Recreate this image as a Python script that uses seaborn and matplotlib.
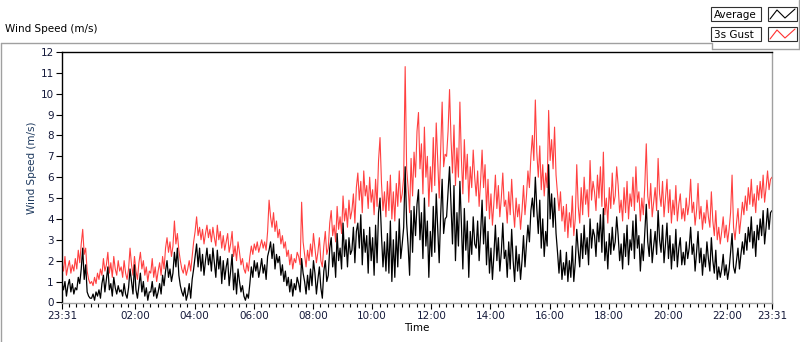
import numpy as np
import pandas as pd
import matplotlib
matplotlib.use("Agg")
import matplotlib.pyplot as plt
import matplotlib.dates as mdates
from matplotlib.ticker import FixedLocator
from matplotlib.patches import Rectangle
import seaborn as sns

# 3s gust, one reading every 3 min from 23:31 to 23:31 next day (one row per hour)
gust = [
    1.9, 1.5, 2.2, 1.3, 1.7, 2.0, 1.4, 1.8, 1.5, 2.1, 1.6, 2.5, 1.9, 2.8, 3.5, 2.3, 2.6, 1.5, 1.1, 0.9,
    1.0, 0.8, 1.2, 0.9, 1.4, 1.1, 1.6, 1.3, 2.1, 1.5, 1.8, 2.4, 1.4, 1.9, 1.2, 2.2, 1.6, 1.3, 2.0, 1.5,
    1.7, 1.2, 2.0, 1.4, 1.1, 1.6, 2.6, 1.8, 1.3, 2.2, 1.5, 1.1, 1.9, 2.4, 1.6, 2.0, 1.3, 1.7, 1.0, 1.5,
    1.4, 2.1, 1.2, 1.7, 1.0, 1.5, 1.9, 1.3, 2.2, 1.6, 2.6, 3.1, 2.4, 2.9, 2.2, 2.7, 3.9, 2.8, 3.3, 2.5,
    2.0, 1.6, 1.4, 1.8, 1.3, 1.6, 2.0, 1.5, 2.2, 2.9, 3.4, 4.1, 3.2, 3.6, 3.0, 3.5, 2.8, 3.3, 3.7, 3.1,
    3.5, 2.9, 3.6, 3.1, 2.7, 3.7, 3.0, 3.4, 2.6, 3.2, 2.5, 2.9, 3.3, 2.4, 2.8, 3.4, 2.2, 2.7, 2.0, 2.9,
    2.4, 1.8, 2.1, 1.6, 1.4, 1.9, 1.5, 2.2, 2.7, 2.3, 2.8, 2.5, 2.9, 2.4, 2.7, 3.0, 2.6, 2.9, 2.5, 3.4,
    4.9, 4.1, 3.6, 4.3, 3.4, 3.9, 3.1, 3.5, 2.8, 3.2, 2.6, 2.9, 2.2, 2.5, 1.8, 2.3, 1.6, 2.1, 1.9, 2.4,
    2.2, 1.8, 4.8, 2.9, 2.3, 1.7, 2.5, 2.0, 2.8, 2.2, 3.3, 2.6, 1.9, 2.4, 3.1, 2.0, 1.7, 2.7, 3.4, 2.3,
    2.6, 3.8, 4.4, 3.2, 3.7, 2.9, 4.6, 3.5, 4.1, 3.3, 5.1, 3.9, 4.5, 3.6, 4.9, 4.0, 4.4, 5.2, 3.8, 5.5,
    6.2, 4.9, 5.8, 4.3, 6.3, 5.1, 5.6, 4.5, 6.0, 4.8, 5.4, 4.2, 5.9, 4.6, 6.8, 7.9, 5.7, 4.4, 5.3, 4.1,
    5.8, 4.4, 6.1, 4.0, 5.3, 3.9, 5.7, 4.6, 6.3, 4.8, 5.2, 6.0, 11.3, 6.4, 5.5, 4.3, 6.9, 5.1, 7.2, 6.0,
    8.2, 9.1, 6.4, 7.6, 5.2, 8.4, 6.0, 7.0, 4.6, 6.5, 5.3, 7.9, 5.6, 8.6, 6.8, 5.0, 7.3, 9.6, 6.5, 7.1,
    7.0, 8.2, 10.2, 7.8, 6.2, 8.5, 5.6, 7.4, 6.0, 9.6, 6.9, 5.2, 7.8, 5.9, 7.1, 4.8, 6.5, 5.5, 7.3, 6.0,
    5.1, 6.3, 4.6, 5.8, 7.3, 5.5, 6.6, 4.4, 5.9, 4.0, 5.2, 3.7, 4.8, 6.1, 4.5, 5.6, 4.1, 5.0, 6.2, 4.6,
    4.9, 3.8, 5.3, 4.2, 5.9, 4.5, 3.6, 5.0, 4.1, 4.7, 3.5, 4.4, 5.6, 4.2, 5.1, 6.3, 5.5, 7.0, 8.0, 6.8,
    9.7, 7.2, 6.0, 7.5, 5.4, 6.6, 5.1, 6.2, 5.5, 9.2, 6.8, 7.8, 6.4, 8.4, 6.1, 5.2, 4.4, 5.3, 3.9, 4.6,
    3.4, 4.7, 3.1, 4.3, 3.6, 5.1, 3.2, 4.0, 6.6, 4.6, 3.8, 5.5, 4.2, 6.0, 4.7, 5.4, 4.1, 6.8, 4.9, 5.8,
    5.3, 4.4, 6.1, 5.0, 6.5, 4.6, 7.2, 4.2, 5.0, 3.8, 5.5, 4.5, 6.2, 4.7, 5.1, 6.5, 5.6, 4.3, 4.9, 3.9,
    5.5, 4.3, 5.8, 4.0, 5.2, 4.6, 6.0, 4.4, 6.5, 4.8, 5.3, 3.9, 5.0, 4.2, 5.6, 7.6, 5.1, 4.5, 5.7, 4.1,
    4.8, 5.5, 4.4, 6.9, 5.2, 4.6, 5.8, 4.1, 5.0, 5.9, 4.3, 5.4, 3.8, 4.9, 4.2, 5.6, 3.9, 4.7, 5.2, 4.0,
    4.5, 3.9, 5.0, 4.2, 4.7, 5.9, 4.3, 4.8, 3.7, 4.4, 5.7, 4.0, 4.6, 3.5, 4.3, 3.8, 4.9, 4.1, 3.6, 5.3,
    3.9, 3.2, 4.4, 3.0, 3.6, 2.8, 3.4, 4.1, 3.1, 3.7, 2.9, 3.5, 4.3, 6.1, 3.6, 3.0, 3.8, 4.5, 3.3, 4.0,
    4.8, 4.2, 5.1, 4.4, 5.5, 4.7, 5.9, 4.6, 5.2, 4.3, 5.6, 4.9, 5.8, 5.0, 6.1, 4.8, 5.5, 6.3, 5.4, 5.9,
    6.0,
]

# average wind speed, same timestamps
average = [
    0.9, 0.6, 1.0, 0.3, 0.8, 1.1, 0.5, 0.9, 0.4, 0.7, 0.6, 1.2, 0.9, 1.6, 2.6, 1.1, 1.8, 0.5, 0.3, 0.2,
    0.2, 0.4, 0.1, 0.5, 0.3, 0.6, 0.2, 0.9, 1.3, 0.5, 1.1, 1.7, 0.6, 0.9, 0.3, 1.2, 0.7, 0.4, 0.8, 0.5,
    0.6, 0.3, 0.9, 0.4, 0.2, 0.7, 1.6, 1.0, 0.4, 1.8, 0.6, 0.2, 0.8, 1.4, 0.5, 1.0, 0.3, 0.7, 0.1, 0.5,
    0.5, 1.0, 0.3, 0.7, 0.2, 0.5, 0.9, 0.4, 1.3, 0.8, 1.5, 2.0, 1.2, 1.6, 1.0, 1.4, 2.4, 1.7, 2.6, 1.3,
    0.8, 0.5, 0.3, 0.7, 0.1, 0.4, 0.9, 0.2, 1.1, 1.6, 2.2, 2.8, 1.7, 2.6, 1.5, 2.3, 1.3, 2.0, 2.6, 1.8,
    2.3, 1.5, 2.6, 1.9, 1.2, 2.5, 1.6, 2.2, 0.9, 2.0, 1.1, 1.7, 2.1, 0.8, 1.5, 2.3, 0.6, 1.4, 0.4, 1.6,
    1.0, 0.5, 0.8, 0.3, 0.1, 0.4, 0.2, 0.9, 1.7, 1.2, 2.0, 1.5, 1.9, 1.2, 1.6, 2.1, 1.4, 1.8, 1.1, 2.2,
    2.5, 2.9, 2.1, 2.8, 1.6, 2.3, 1.9, 2.2, 1.3, 1.8, 1.0, 1.5, 0.8, 1.2, 0.5, 1.1, 0.3, 0.9, 0.6, 1.2,
    0.9, 0.5, 2.1, 1.4, 1.0, 0.4, 1.3, 0.6, 1.6, 0.8, 2.0, 1.4, 0.4, 1.1, 1.7, 0.7, 0.2, 1.5, 2.0, 1.0,
    1.3, 2.6, 3.1, 1.7, 2.4, 1.2, 3.3, 2.0, 2.6, 1.6, 3.8, 2.2, 3.0, 1.7, 3.1, 2.3, 2.5, 3.6, 1.9, 3.4,
    3.8, 2.6, 4.2, 1.8, 3.5, 2.4, 3.2, 1.4, 3.6, 2.0, 3.1, 1.3, 3.7, 1.9, 4.3, 5.0, 3.2, 1.7, 2.9, 1.5,
    3.3, 1.4, 3.9, 1.0, 3.0, 1.2, 3.4, 1.7, 4.0, 2.1, 2.8, 3.6, 6.5, 3.8, 2.7, 1.3, 4.4, 2.4, 4.6, 3.2,
    4.7, 5.4, 3.0, 4.3, 2.1, 5.0, 2.7, 3.9, 1.2, 3.4, 2.2, 4.6, 2.4, 5.2, 3.6, 1.9, 4.2, 5.9, 3.3, 4.0,
    4.1, 5.3, 6.5, 4.6, 2.8, 5.6, 2.0, 4.3, 2.7, 5.8, 3.8, 1.6, 4.5, 2.5, 3.9, 1.2, 3.4, 2.3, 4.1, 2.8,
    2.6, 3.9, 2.0, 3.3, 4.9, 2.8, 4.1, 1.8, 3.4, 1.4, 2.6, 1.1, 2.3, 3.7, 2.0, 3.1, 1.5, 2.4, 3.8, 2.1,
    2.5, 1.2, 2.9, 1.6, 3.5, 2.0, 1.0, 2.7, 1.5, 2.3, 1.1, 2.0, 3.2, 1.7, 2.8, 3.7, 2.9, 4.4, 5.0, 4.1,
    6.0, 4.5, 3.3, 4.9, 2.6, 4.0, 2.2, 3.4, 2.7, 6.6, 4.0, 5.2, 3.6, 5.0, 3.3, 2.4, 1.4, 2.5, 1.1, 1.9,
    1.3, 2.4, 1.0, 2.0, 1.2, 2.7, 1.0, 1.9, 3.5, 2.5, 1.7, 3.3, 2.1, 3.7, 2.3, 3.1, 1.8, 4.0, 2.6, 3.5,
    3.2, 2.2, 3.8, 2.9, 4.2, 2.4, 4.5, 2.0, 2.9, 1.6, 3.3, 2.3, 3.6, 2.5, 2.9, 4.1, 3.2, 2.0, 2.8, 1.6,
    3.3, 2.2, 3.7, 1.8, 3.0, 2.5, 3.9, 2.1, 4.2, 2.6, 3.2, 1.5, 2.8, 2.0, 3.4, 4.7, 2.9, 2.2, 3.5, 1.9,
    2.7, 3.4, 2.3, 4.4, 3.0, 2.4, 3.7, 1.9, 2.8, 3.8, 2.1, 3.2, 1.6, 2.8, 2.0, 3.5, 1.7, 2.6, 3.1, 1.8,
    2.4, 1.8, 2.9, 2.1, 2.6, 3.6, 2.3, 2.8, 1.5, 2.4, 3.4, 1.9, 2.6, 1.3, 2.3, 1.7, 2.9, 2.1, 1.5, 3.1,
    2.0, 1.4, 2.5, 1.1, 1.7, 1.2, 1.6, 2.3, 1.3, 1.8, 1.1, 1.6, 2.4, 3.3, 1.7, 1.4, 2.0, 2.6, 1.6, 2.3,
    2.9, 2.3, 3.3, 2.5, 3.6, 2.9, 4.1, 2.6, 3.4, 2.2, 3.7, 3.0, 4.0, 3.2, 4.4, 2.8, 3.6, 4.5, 3.5, 4.3,
    4.4,
]

series_names = ["Average", "3s Gust"]
y_ticks = list(range(0, 13))

times = pd.date_range("2024-01-01 23:31", periods=len(gust), freq="3min")
tick_times = [times[0]] + list(pd.date_range("2024-01-02 02:00", "2024-01-02 22:00", freq="2h")) + [times[-1]]
df = pd.DataFrame({"time": times, "Average": average, "3s Gust": gust})

sns.set_style("white")
plt.rcParams["font.family"] = ["DejaVu Sans"]
plt.rcParams["font.size"] = 7.5

label_col = "#14193a"
gray = "#a0a0a0"

fig = plt.figure(figsize=(8, 3.42), dpi=100)
ax = fig.add_axes([62 / 800, 39 / 342, 710 / 800, 251 / 342])

sns.lineplot(data=df, x="time", y="3s Gust", color="#ff4040", lw=0.8, ax=ax)
sns.lineplot(data=df, x="time", y="Average", color="black", lw=0.9, ax=ax)

ax.set_xlim(times[0], times[-1])
ax.set_ylim(-0.03, 12)
ax.set_yticks(y_ticks)
ax.xaxis.set_major_locator(FixedLocator(mdates.date2num(tick_times)))
ax.xaxis.set_major_formatter(mdates.DateFormatter("%H:%M"))
ax.xaxis.set_minor_locator(mdates.MinuteLocator(byminute=[0, 15, 30, 45]))
ax.tick_params(axis="both", which="major", direction="out", length=4, width=0.8,
               color="black", labelcolor=label_col, labelsize=7.5, pad=2)
ax.tick_params(axis="x", which="minor", direction="out", length=3, width=0.8, color="black")
ax.tick_params(bottom=True, left=True, which="both")
ax.tick_params(axis="y", which="minor", left=False)

for s in ["top", "left"]:
    ax.spines[s].set_color("black")
    ax.spines[s].set_linewidth(1)
for s in ["right", "bottom"]:
    ax.spines[s].set_color(gray)
    ax.spines[s].set_linewidth(1)

ax.set_ylabel("Wind Speed (m/s)", color="#1e3a5f", fontsize=7.5)
ax.yaxis.set_label_coords(-0.035, 0.54)
ax.set_xlabel("Time", color="black", fontsize=7.5, labelpad=1)

# LabVIEW style frame, caption and legend drawn in pixel coordinates
ov = fig.add_axes([0, 0, 1, 1], facecolor="none")
ov.set_xlim(0, 800)
ov.set_ylim(342, 0)
ov.axis("off")
ov.plot([0.5, 712], [42.5, 42.5], color=gray, lw=1)
ov.plot([0.5, 0.5], [42.5, 342], color=gray, lw=1)
ov.plot([712, 712], [42.5, 49], color=gray, lw=1)
ov.plot([712, 798.5], [49, 49], color=gray, lw=1)
ov.plot([798.5, 798.5], [0, 49], color=gray, lw=1)
ov.text(5, 32, "Wind Speed (m/s)", fontsize=7.5, color="black", va="baseline")

rows = [(7, "black"), (27, "#ff3030")]
for name, (y0, c) in zip(series_names, rows):
    ov.add_patch(Rectangle((711, y0), 50, 14, facecolor="white", edgecolor="#303030", lw=0.8))
    ov.text(713.5, y0 + 7.5, name, fontsize=7.5, color="black", va="center", ha="left")
    ov.add_patch(Rectangle((768, y0), 29, 14, facecolor="white", edgecolor="#303030", lw=0.8))
    ov.plot([770, 777, 785, 795], [y0 + 12, y0 + 3, y0 + 11, y0 + 2], color=c, lw=0.8)

fig.savefig("out.png", dpi=100)
